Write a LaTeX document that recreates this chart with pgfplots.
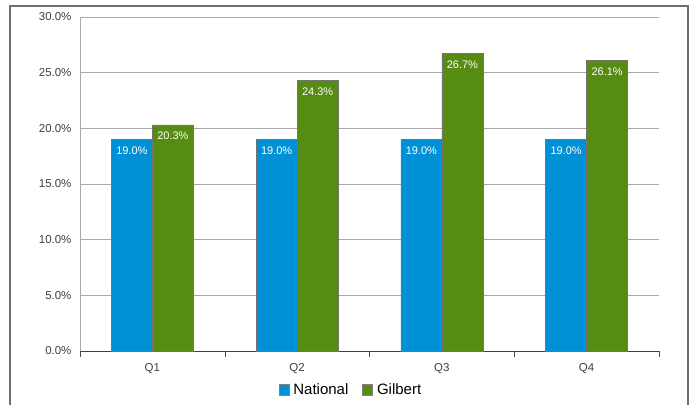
\documentclass[border=0pt]{standalone}
\usepackage{pgfplots}
\pgfplotsset{compat=1.18}
\usepackage{fontspec}
\setmainfont{Liberation Sans}
\definecolor{natblue}{RGB}{0,144,214}
\definecolor{gilgreen}{RGB}{86,140,18}
\definecolor{gridgray}{RGB}{170,170,170}
\definecolor{framegray}{RGB}{110,110,110}
\begin{document}
\begin{tikzpicture}[x=1pt,y=1pt]
\useasboundingbox (0,0) rectangle (692,404);
% outer chart frame
\draw[framegray, line width=1.2pt] (10,-2) -- (10,398) -- (688,398) -- (688,-2);
\begin{axis}[
  at={(80pt,53pt)}, anchor=origin,
  scale only axis, width=579pt, height=334pt,
  ybar=0pt, bar width=41pt,
  xmin=0.5, xmax=4.5, ymin=0, ymax=30,
  xtick={1,2,3,4}, xticklabels={Q1,Q2,Q3,Q4},
  extra x ticks={0.5,1.5,2.5,3.5,4.5}, extra x tick labels={},
  extra x tick style={major tick length=6pt, tick style={black!70}},
  ytick={0,5,10,15,20,25,30},
  major tick length=0pt,
  ymajorgrids, grid style={gridgray, line width=0.8pt},
  axis x line*=bottom, axis y line*=left,
  x axis line style={black!75, line width=0.8pt, -},
  y axis line style={gridgray, line width=0.8pt, -},
  tick align=outside,
  ytick style={gridgray, line width=0.8pt},
  /pgf/number format/assume math mode=true,
  yticklabel={\pgfmathprintnumber[fixed, fixed zerofill, precision=1]{\tick}\%},
  every tick label/.append style={font=\fontsize{11.5}{13}\selectfont, text=black!75},
  y tick label style={xshift=-5pt},
  x tick label style={yshift=-9pt},
  nodes near coords={\pgfmathprintnumber[fixed, fixed zerofill, precision=1]{\pgfplotspointmeta}\%},
  every node near coord/.append style={anchor=north, text=white, font=\fontsize{11}{13}\selectfont, inner sep=1pt, yshift=-6pt},
  legend style={at={(0.468,-0.117)}, anchor=center, draw=none, legend columns=2,
    font=\fontsize{15}{17}\selectfont, inner sep=0pt,
    /tikz/every odd column/.append style={column sep=2pt},
    /tikz/every even column/.append style={column sep=12pt}},
  legend image code/.code={\draw[#1, draw=black!50] (0pt,-5.5pt) rectangle (10pt,5.5pt);},
]
\addplot[fill=natblue, draw=black!55, line width=0.6pt] coordinates {(1,19.0) (2,19.0) (3,19.0) (4,19.0)};
\addplot[fill=gilgreen, draw=black!55, line width=0.6pt] coordinates {(1,20.3) (2,24.3) (3,26.7) (4,26.1)};
\legend{National, Gilbert}
\end{axis}
\end{tikzpicture}
\end{document}
